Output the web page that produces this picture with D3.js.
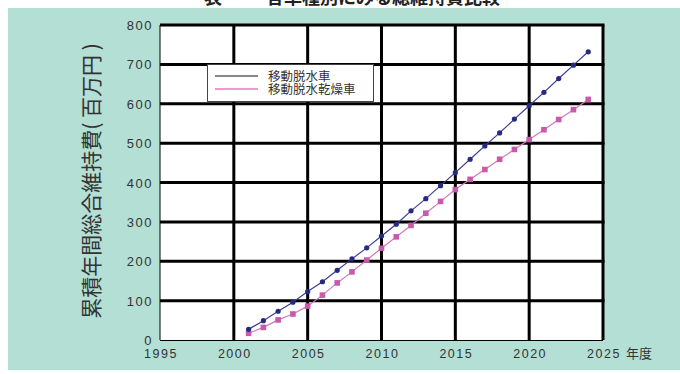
<!DOCTYPE html>
<html lang="ja">
<head>
<meta charset="UTF-8">
<title>累積年間総合維持費</title>
<script src="https://d3js.org/d3.v7.min.js"></script>
<style>
  body { margin: 0; background: #fff; }
  svg { display: block; }
</style>
</head>
<body>
<svg id="chart" width="680" height="374"></svg>
<script>
// data
const years = d3.range(2001, 2025);
const dassui = [27, 49, 73, 96, 123, 148, 177, 206, 234, 264, 294, 328, 359, 392, 425, 459, 493, 526, 561, 595, 629, 664, 698, 732];
const kansou = [17, 32, 51, 66, 86, 114, 145, 173, 203, 233, 262, 291, 322, 352, 382, 408, 433, 459, 484, 509, 534, 560, 585, 611];
const xTicks = [1995, 2000, 2005, 2010, 2015, 2020, 2025];
const yTicks = [0, 100, 200, 300, 400, 500, 600, 700, 800];
const seriesNames = ["移動脱水車", "移動脱水乾燥車"];

const svg = d3.select("#chart");
const numFont = "'Liberation Sans', Arial, sans-serif";
const jpFont = "'Noto Sans CJK JP', sans-serif";

// title strip (cut off at the top, as in the source) + teal panel
svg.append("text")
    .attr("x", 352).attr("y", 4)
    .attr("text-anchor", "middle")
    .attr("font-family", jpFont)
    .attr("font-weight", "bold")
    .attr("font-size", 18)
    .attr("fill", "#222")
    .text("表 ー・ 各車種別にみる総維持費比較");

svg.append("rect")
    .attr("x", 8).attr("y", 8)
    .attr("width", 672).attr("height", 362)
    .attr("fill", "#b3dfd5");

const x = d3.scaleLinear().domain([1995, 2025]).range([160, 603]);
const y = d3.scaleLinear().domain([0, 800]).range([340, 25]);

// plot area
svg.append("rect")
    .attr("x", x(1995)).attr("y", y(800))
    .attr("width", x(2025) - x(1995)).attr("height", y(0) - y(800))
    .attr("fill", "#fff");

// grid
svg.append("g").selectAll("line")
    .data(xTicks.slice(1))
    .join("line")
    .attr("x1", d => x(d)).attr("x2", d => x(d))
    .attr("y1", y(800)).attr("y2", y(0))
    .attr("stroke", "#000").attr("stroke-width", 3);

svg.append("g").selectAll("line")
    .data(yTicks.slice(1))
    .join("line")
    .attr("x1", x(1995)).attr("x2", x(2025) + 1.5)
    .attr("y1", d => y(d)).attr("y2", d => y(d))
    .attr("stroke", "#000").attr("stroke-width", 3);

// thin left / bottom axes
svg.append("line")
    .attr("x1", x(1995)).attr("x2", x(1995))
    .attr("y1", y(800)).attr("y2", y(0))
    .attr("stroke", "#000").attr("stroke-width", 1);
svg.append("line")
    .attr("x1", x(1995)).attr("x2", x(2025))
    .attr("y1", y(0) + 0.5).attr("y2", y(0) + 0.5)
    .attr("stroke", "#000").attr("stroke-width", 1);

// y tick labels
svg.append("g").selectAll("text")
    .data(yTicks)
    .join("text")
    .attr("x", 153).attr("y", d => y(d) + 5)
    .attr("text-anchor", "end")
    .attr("font-family", numFont)
    .attr("font-size", 13)
    .attr("letter-spacing", 1.5)
    .attr("fill", "#333")
    .text(d => d);

// x tick labels
svg.append("g").selectAll("text")
    .data(xTicks)
    .join("text")
    .attr("x", d => x(d) + 1)
    .attr("y", 358)
    .attr("text-anchor", "middle")
    .attr("font-family", numFont)
    .attr("font-size", 12.5)
    .attr("letter-spacing", 1.5)
    .attr("fill", "#333")
    .text(d => d);

svg.append("text")
    .attr("x", x(2025) + 23).attr("y", 358)
    .attr("font-family", jpFont)
    .attr("font-size", 13)
    .attr("fill", "#333")
    .text("年度");

// y axis title
svg.append("text")
    .attr("transform", "translate(99,181) rotate(-90)")
    .attr("text-anchor", "middle")
    .attr("font-family", jpFont)
    .attr("font-size", 21)
    .attr("fill", "#333")
    .text("累積年間総合維持費( 百万円 )");

// series
const line = d3.line().x((d, i) => x(years[i])).y(d => y(d));

svg.append("path")
    .datum(kansou)
    .attr("d", line)
    .attr("fill", "none")
    .attr("stroke", "#d377bd").attr("stroke-width", 1.2);

svg.append("g").selectAll("rect")
    .data(kansou)
    .join("rect")
    .attr("x", (d, i) => x(years[i]) - 2.8)
    .attr("y", d => y(d) - 2.8)
    .attr("width", 5.6).attr("height", 5.6)
    .attr("fill", "#c85aaa");

svg.append("path")
    .datum(dassui)
    .attr("d", line)
    .attr("fill", "none")
    .attr("stroke", "#3a3d92").attr("stroke-width", 1.2);

svg.append("g").selectAll("circle")
    .data(dassui)
    .join("circle")
    .attr("cx", (d, i) => x(years[i]))
    .attr("cy", d => y(d))
    .attr("r", 2.6)
    .attr("fill", "#262a80");

// legend
const lg = svg.append("g");
lg.append("rect")
    .attr("x", 207.5).attr("y", 64.5)
    .attr("width", 166).attr("height", 37)
    .attr("fill", "#fff")
    .attr("stroke", "#444").attr("stroke-width", 1);

const legendColors = ["#111", "#e0309e"];
seriesNames.forEach((name, i) => {
    const ly = 76 + i * 13;
    lg.append("line")
        .attr("x1", 215).attr("x2", 258)
        .attr("y1", ly).attr("y2", ly)
        .attr("stroke", legendColors[i]).attr("stroke-width", 1);
    lg.append("text")
        .attr("x", 268).attr("y", ly + 4.5)
        .attr("font-family", jpFont)
        .attr("font-size", 12.5)
        .attr("fill", "#333")
        .text(name);
});
</script>
</body>
</html>
